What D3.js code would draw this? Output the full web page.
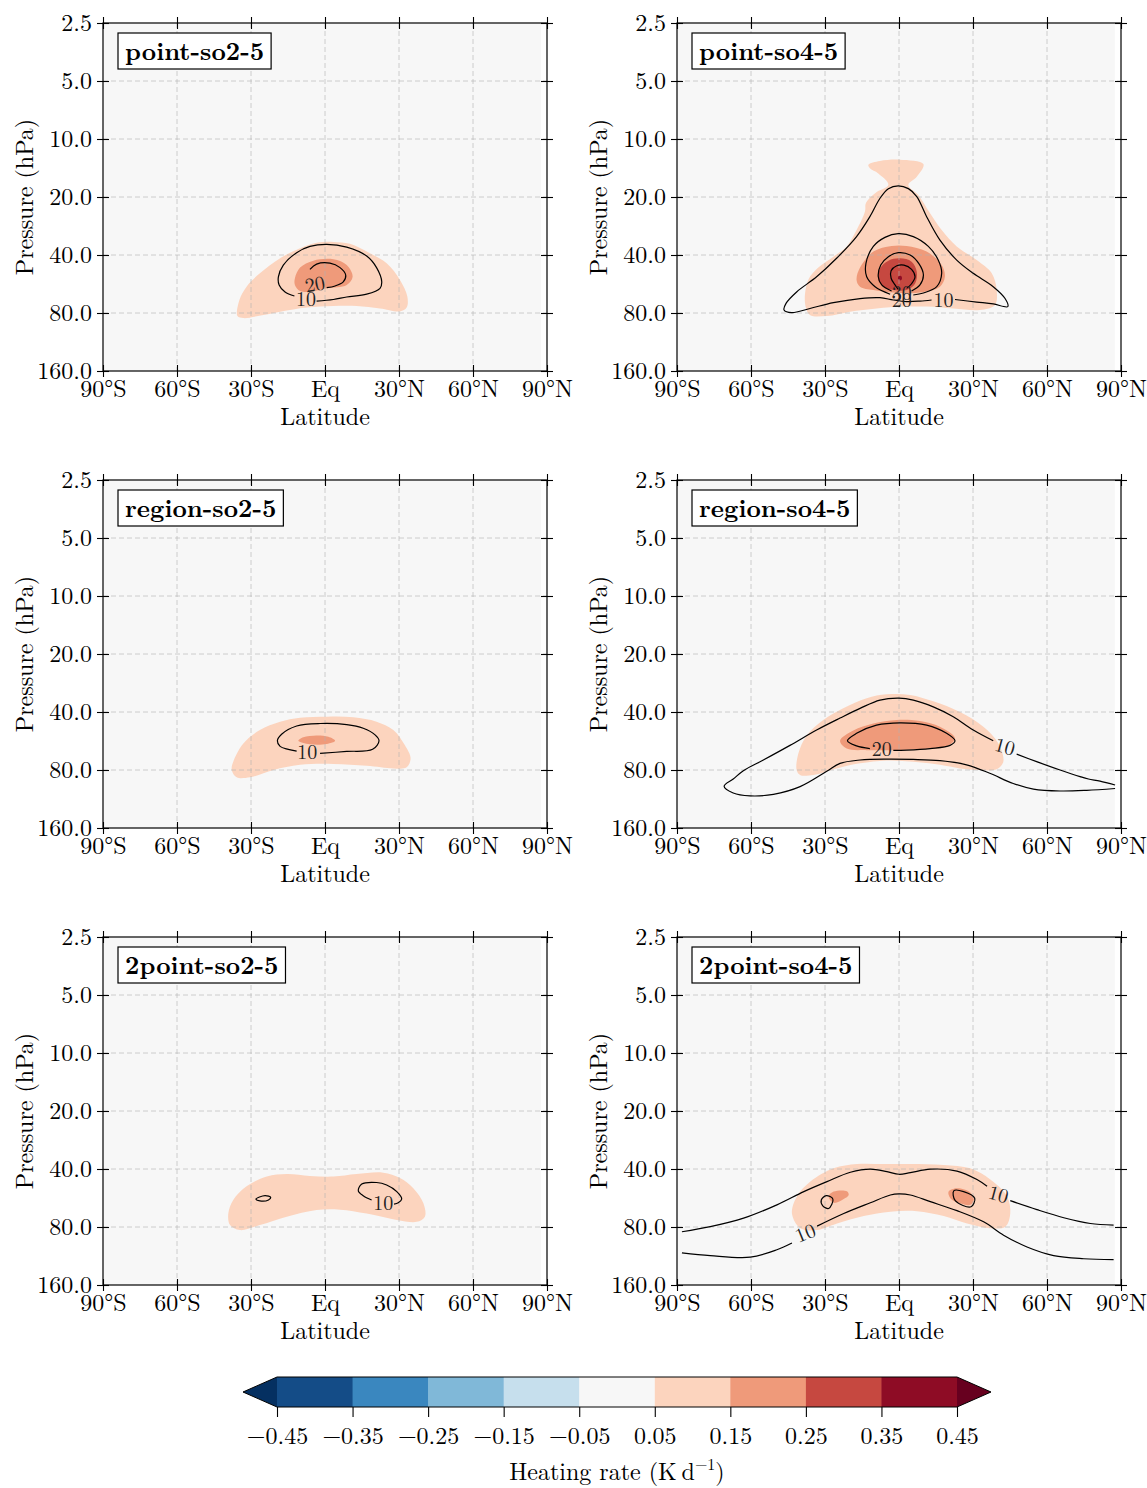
<!DOCTYPE html>
<html>
<head>
<meta charset="utf-8">
<script src="https://cdn.jsdelivr.net/npm/d3@7"></script>
<style>
  body { margin: 0; background: #fff; }
</style>
</head>
<body>
<script>
const FONT = '"Latin Modern Roman","CMU Serif","Liberation Serif",serif';

// axes
const latTicks = [-90, -60, -30, 0, 30, 60, 90];
const latLabels = ["90°S", "60°S", "30°S", "Eq", "30°N", "60°N", "90°N"];
const pTicks = [2.5, 5, 10, 20, 40, 80, 160];
const pLabels = ["2.5", "5.0", "10.0", "20.0", "40.0", "80.0", "160.0"];

// colour levels (K/day), RdBu_r
const levels = [-0.45, -0.35, -0.25, -0.15, -0.05, 0.05, 0.15, 0.25, 0.35, 0.45];
const colors = ["#053061", "#144c87", "#3a87bf", "#80b8d8", "#c6dfed", "#f7f7f7",
                "#fcd4be", "#ef9a7a", "#c64840", "#8e0c25", "#67001f"];

const panelNames = ["point-so2-5", "point-so4-5", "region-so2-5", "region-so4-5", "2point-so2-5", "2point-so4-5"];

// filled regions: v = heating rate inside, pts = [lat, hPa]
const pointSo2Fills = [
  {v: 0.10, pts: [[-35.5,83],[-34.7,68.5],[-31.8,58.4],[-26.4,49.8],[-18.2,41.6],[-10.1,36.9],[-3.4,34.6],[3.4,34.2],[10.1,35],[18.2,39.2],[25,44.2],[30.4,53.9],[33.4,65.8],[33.1,74.9],[30.4,78.5],[22.3,75.8],[12.8,73.5],[3.4,73.5],[-7.4,74.9],[-18.2,78.8],[-27.7,83.2],[-33.1,85]]},
  {v: 0.20, pts: [[-12.2,52.8],[-10.1,46.5],[-4.7,42.8],[3.4,42.1],[8.8,45.1],[11.2,51.9],[8.8,57.2],[0.7,59.6],[-6.1,62.2],[-10.1,61.5],[-12.2,57.2]]}
];
const pointSo2Lines = [
  {v: 10, closed: false, pts: [[-12.4,65.3],[-16.2,62.2],[-18.6,57.2],[-18.9,51.9],[-16.9,45.1],[-11.5,38.9],[-6.1,36.1],[0.7,35.2],[8.8,36.4],[16.9,40.5],[20.9,46.5],[23,55.1],[22.3,59.6],[16.9,63.9],[8.8,66.1],[3.4,68.1],[-3.4,69.4]]},
  {v: 20, closed: false, pts: [[-6.1,47.5],[-3.4,44.6],[2,44.1],[6.1,46.5],[8.4,50.8],[7.4,55.1],[4.1,57.9],[0.7,59.1]]}
];
const pointSo2Labels = [[-7.7,67.5,"10",0],[-4.1,56.4,"20",-10]];

const pointSo4Fills = [
  {v: 0.10, pts: [[-12.4,13.6],[-7.7,13],[0.4,12.8],[9.9,13.5],[7.2,15.7],[3.8,17.3],[7.8,19.5],[12.6,24.3],[17.3,29.7],[23.4,36.1],[31.5,42.5],[37.6,49.8],[39.6,60.8],[38.9,72.7],[32.8,77.2],[22,75.8],[11.2,74.1],[1.8,74.1],[-9.1,75.8],[-19.9,78.8],[-29.3,83],[-36.1,81.9],[-38.1,71.3],[-36.8,53.9],[-32.7,46.5],[-26.6,40.8],[-21.2,36.1],[-17.2,29.7],[-13.8,23.8],[-13.4,21.5],[-9.7,19.1],[-4.3,17.3],[-8.4,15.1],[-11.8,14.2]]},
  {v: 0.20, pts: [[-17.2,53.9],[-15.8,46.5],[-10.4,38.4],[-3,35.9],[3.1,35.9],[11.2,38.4],[17.3,45.1],[18.6,51.9],[16.6,58.4],[9.9,62.2],[0.4,63],[-10.4,60.8],[-15.8,58.4]]},
  {v: 0.30, pts: [[-8.4,53.9],[-7.7,47],[-4.3,42.8],[0.4,41.6],[5.1,43.3],[7.2,48.9],[6.5,56.4],[3.1,60.8],[-2.3,60.8],[-6.4,58.4]]},
  {v: 0.40, pts: [[-0.3,51.8],[0.4,51.2],[1.1,51.8],[1.1,53.6],[0.4,54.2],[-0.3,53.6]]}
];
const pointSo4Lines = [
  {v: 10, closed: false, pts: [[13.2,68.5],[8.5,69.4],[3.1,69.8],[-2.3,68.5],[-7.7,66.6],[-15.8,67.3],[-26.6,70.7],[-36.1,75.8],[-43.5,79.7],[-46.6,77.2],[-45.8,71.3],[-41.5,62.2],[-33.4,51.9],[-25.3,41.6],[-17.2,32.1],[-11.8,25.3],[-7.7,20.3],[-4.3,18.1],[-0.3,17.5],[3.8,18.1],[7.2,19.9],[11.2,25.3],[16.6,33.5],[23.4,42.5],[30.1,49.8],[38.2,58.4],[43,67.3],[44.1,74.1],[38.2,71.8],[31.5,70.2],[22.7,68.1]]},
  {v: 20, closed: false, pts: [[5.8,64.5],[9.9,63],[15.3,58.4],[17.3,49.8],[15.9,42.5],[11.9,36.1],[5.8,32.1],[-0.3,31],[-5.7,32.4],[-10.4,36.1],[-13.4,44.2],[-13.1,51.9],[-9.7,58.4],[-3.6,63.9]]},
  {v: 30, closed: false, pts: [[5.1,61.5],[8.5,57.2],[9.9,50.8],[8.2,44.6],[4.5,40],[-0.3,38.9],[-4.3,40.8],[-7.4,45.1],[-8.4,51.9],[-7,57.2],[-3,61.5]]},
  {v: 40, closed: false, pts: [[3.1,59.6],[5.1,56.4],[6.5,51.9],[5.1,47.5],[2,45.1],[-0.9,45.5],[-3.2,48.3],[-3.2,52.8],[-1.6,57.2],[-0.3,60.3]]}
];
const pointSo4Labels = [[18,68.5,"10",0],[1.1,62.8,"30",0],[1.1,68.1,"20",0]];

const regionSo2Fills = [
  {v: 0.10, pts: [[-37.8,80],[-37.2,72.4],[-33.1,58.2],[-26.4,49.6],[-18.2,44.9],[-10.1,42.8],[0.7,42.3],[11.5,42.6],[20.9,44.9],[27.7,49.6],[32.4,59.6],[34.7,69.6],[33.1,77.5],[27.7,78.5],[16.9,76.1],[3.4,74.4],[-10.1,75.2],[-20.9,80],[-30.4,87.3],[-35.8,87.3]]},
  {v: 0.20, pts: [[-10.8,56.4],[-8.8,54.1],[-3.4,52.9],[1.4,53.8],[4.1,56.4],[0.7,58.6],[-6.1,58.8]]}
];
const regionSo2Lines = [
  {v: 10, closed: false, pts: [[-11.5,63.9],[-14.9,62.5],[-18.2,60.3],[-19.3,56.4],[-17.6,52.2],[-11.5,47.3],[-2,45.9],[8.8,46.5],[15.5,48.6],[20.3,52.6],[21.9,56.4],[19.3,62.5],[8.8,64.1],[-2,65.6]]}
];
const regionSo2Labels = [[-7.2,64.6,"10",0]];

const regionSo4Fills = [
  {v: 0.10, pts: [[-41.5,80],[-40.8,65.6],[-37.4,52.9],[-30.7,44],[-22.6,38.3],[-13.1,33.9],[-5,32.4],[4.5,32.6],[13.9,35.2],[24.7,40],[34.2,47.7],[40.3,58.2],[42.3,72.4],[39.6,79.4],[32.8,80],[24.7,78.5],[16.6,75.2],[5.8,72.4],[-5,71.4],[-15.8,73.9],[-25.3,78.5],[-34.7,84.9],[-40.1,84.9]]},
  {v: 0.20, pts: [[-23.9,56.4],[-18.5,49.9],[-10.4,45.9],[-0.9,44],[8.5,44.6],[16.6,47.7],[22.7,54.7],[19.3,60.3],[8.5,62.5],[-2.3,63.1],[-13.1,63.1],[-21.2,61.9]]}
];
const regionSo4Lines = [
  {v: 20, closed: false, pts: [[-11.8,61.9],[-17.2,60],[-20.9,56.4],[-17.2,51.6],[-9.1,46.8],[0.4,45.5],[11.2,46.8],[19.3,51.6],[22.7,56.4],[20.7,59.6],[12.6,61.9],[3.1,63.1],[-2.3,63.3]]},
  {v: 10, closed: false, pts: [[38.2,56.4],[30.1,49.6],[22,42.3],[13.9,37.6],[5.8,34.7],[0,33.9],[-7.7,34.7],[-15.8,38.3],[-23.9,43],[-33.4,49.6],[-44.2,59.6],[-55,71],[-63.1,80.7],[-67.2,89.1],[-70.9,97.1],[-67.2,105.3],[-60.4,109],[-50.9,107],[-40.1,97.6],[-29.3,81.3],[-23.9,73.9],[-15.8,71],[-5,70.2],[5.8,70.5],[16.6,71.6],[27.4,75.2],[36.8,83.2],[46.3,94],[54.5,100.5],[65.3,102.8],[76.1,102],[87.6,99.8]]},
  {v: 10, closed: false, pts: [[47.7,66.2],[55.8,72.4],[65.3,80],[73.4,86.6],[76.8,89.1],[81.5,91.4],[87.6,95.7]]}
];
const regionSo4Labels = [[-7,62.5,"20",0],[43,60.3,"10",15]];

const twoPointSo2Fills = [
  {v: 0.10, pts: [[-39.2,68.1],[-37.2,57.9],[-31.8,49.2],[-23.6,43.8],[-15.5,42.5],[-6.1,43.5],[3.4,43.8],[12.8,42.5],[23.6,41.8],[30.4,44.6],[35.8,50.3],[39.9,60.3],[40.5,70.7],[37.2,75.2],[29.1,73.5],[16.9,68.1],[6.1,65],[-3.4,65.3],[-15.5,70.7],[-26.4,78.2],[-34.5,83],[-38.5,78.2]]}
];
const twoPointSo2Lines = [
  {v: 10, closed: true, pts: [[-28,57.3],[-24.3,55],[-22,56.2],[-22.9,57.9],[-26.4,58.6]]},
  {v: 10, closed: false, pts: [[18.9,57.9],[15.5,55],[13.5,51.9],[14.9,47.9],[20.9,47],[25,48.4],[29.1,52.4],[31.1,57.2],[29.7,59.9],[28,60.8]]}
];
const twoPointSo2Labels = [[23.6,59.9,"10",0]];

const twoPointSo4Fills = [
  {v: 0.10, pts: [[-43.4,68.1],[-41.4,55.5],[-35.9,46.5],[-26.5,39.7],[-17,37.7],[-6.2,37.7],[4.6,37.7],[18.1,38.1],[28.9,39.7],[37,45.4],[43.8,55.5],[45.1,68.1],[43.1,79.7],[37,81.2],[27.6,76.7],[18.1,70.2],[7.3,66.2],[-3.5,66.6],[-14.3,70.2],[-25.1,76.7],[-33.2,83],[-40,81.2]]},
  {v: 0.20, pts: [[-28.5,55.5],[-26.5,52.4],[-21.1,52.2],[-20.4,54.6],[-22.4,57.3],[-26.5,59.9]]},
  {v: 0.20, pts: [[20.1,52.4],[23.5,50.3],[28.9,52.9],[30.3,57.9],[28.9,61.4],[24.2,59.9],[20.8,56.7]]}
];
const twoPointSo4Lines = [
  {v: 20, closed: true, pts: [[-31.5,57.9],[-29.5,55],[-26.8,57.3],[-28.5,64.1],[-30.9,62.1]]},
  {v: 20, closed: true, pts: [[22.2,51.9],[26.2,52.4],[30.7,56.7],[29.2,62.8],[22.8,58.4]]},
  {v: 10, closed: false, pts: [[-88,84.7],[-76.5,79.7],[-63,72],[-49.5,61.4],[-38.6,52.4],[-29.2,46.5],[-19.7,41.6],[-11.6,40.1],[-4.9,41.3],[0,42.6],[4.6,41.8],[12.7,40.1],[23.5,41],[31.6,45.4],[35.7,49.2]]},
  {v: 10, closed: false, pts: [[45.1,58.4],[55.9,65],[66.8,71.6],[77.6,76.7],[87,78.2]]},
  {v: 10, closed: false, pts: [[-88,108.9],[-76.5,112.6],[-60.3,114.7],[-49.5,105],[-43.4,96.9]]},
  {v: 10, closed: false, pts: [[-33.2,79.2],[-22.4,68.1],[-11.6,59.9],[-3.5,54.6],[0,53.9],[4.6,54.6],[12.7,59.1],[23.5,65.8],[34.3,75.2],[42.4,88.2],[51.9,101.6],[62.7,112.6],[74.9,116.9],[87,118.2]]}
];
const twoPointSo4Labels = [[40.4,53.9,"10",15],[-38,85.8,"10",-22]];

const panelFills = [pointSo2Fills, pointSo4Fills, regionSo2Fills, regionSo4Fills, twoPointSo2Fills, twoPointSo4Fills];
const panelLines = [pointSo2Lines, pointSo4Lines, regionSo2Lines, regionSo4Lines, twoPointSo2Lines, twoPointSo4Lines];
const panelLabels = [pointSo2Labels, pointSo4Labels, regionSo2Labels, regionSo4Labels, twoPointSo2Labels, twoPointSo4Labels];

const W = 1147, H = 1488;
const pw = 444, ph = 348;
const FS = 24;
const origins = [[103, 23], [677, 23], [103, 480], [677, 480], [103, 937], [677, 937]];

const svg = d3.select("body").append("svg")
  .attr("width", W)
  .attr("height", H)
  .style("font-family", FONT);

const x = d3.scaleLinear().domain([-90, 90]).range([0, pw]);
const y = d3.scaleLog().base(2).domain([2.5, 160]).range([0, ph]);
const color = d3.scaleThreshold().domain(levels).range(colors);

const openLine = d3.line().x(d => x(d[0])).y(d => y(d[1])).curve(d3.curveCatmullRom.alpha(0.5));
const closedLine = d3.line().x(d => x(d[0])).y(d => y(d[1])).curve(d3.curveCatmullRomClosed.alpha(0.5));

const styleAxis = (ax, inner, horiz) => {
  ax.attr("font-family", FONT).attr("font-size", FS);
  ax.select(".domain").remove();
  ax.selectAll(".tick line").attr(horiz ? "y1" : "x1", inner).attr("stroke", "#000").attr("stroke-width", 1.1);
};

panelNames.forEach((name, i) => {
  const [ox, oy] = origins[i];
  const g = svg.append("g").attr("transform", `translate(${ox},${oy})`);

  g.append("clipPath").attr("id", "clip" + i)
    .append("rect").attr("width", pw).attr("height", ph);

  const plot = g.append("g").attr("clip-path", `url(#clip${i})`);

  // field background (neutral bin)
  plot.append("rect")
    .attr("x", x(-90)).attr("width", x(87.5) - x(-90))
    .attr("height", ph)
    .attr("fill", color(0));

  plot.selectAll("path.fill")
    .data(panelFills[i])
    .join("path")
    .attr("class", "fill")
    .attr("d", d => closedLine(d.pts))
    .attr("fill", d => color(d.v));

  // grid
  plot.selectAll("line.gx")
    .data(latTicks.slice(1, -1))
    .join("line")
    .attr("class", "gx")
    .attr("x1", d => x(d)).attr("x2", d => x(d))
    .attr("y1", 0).attr("y2", ph);
  plot.selectAll("line.gy")
    .data(pTicks.slice(1, -1))
    .join("line")
    .attr("class", "gy")
    .attr("x1", 0).attr("x2", pw)
    .attr("y1", d => y(d)).attr("y2", d => y(d));
  plot.selectAll("line.gx, line.gy")
    .attr("stroke", "#b0b0b0")
    .attr("stroke-opacity", 0.6)
    .attr("stroke-width", 1)
    .attr("stroke-dasharray", "5,3");

  // contour lines
  plot.selectAll("path.cl")
    .data(panelLines[i])
    .join("path")
    .attr("class", "cl")
    .attr("d", d => (d.closed ? closedLine : openLine)(d.pts))
    .attr("fill", "none")
    .attr("stroke", "#000")
    .attr("stroke-width", 1.2);

  plot.selectAll("text.cl")
    .data(panelLabels[i])
    .join("text")
    .attr("class", "cl")
    .attr("transform", d => `translate(${x(d[0])},${y(d[1])}) rotate(${d[3]})`)
    .attr("text-anchor", "middle")
    .attr("dy", "0.35em")
    .attr("font-size", 20)
    .attr("fill", "#222")
    .text(d => d[2]);

  // frame
  g.append("rect")
    .attr("width", pw).attr("height", ph)
    .attr("fill", "none")
    .attr("stroke", "#000")
    .attr("stroke-width", 1.2);

  // axes, ticks crossing the frame
  const bottom = g.append("g").attr("transform", `translate(0,${ph})`)
    .call(d3.axisBottom(x).tickValues(latTicks).tickFormat((d, k) => latLabels[k]).tickSize(6).tickPadding(3));
  styleAxis(bottom, -6, true);
  const top = g.append("g")
    .call(d3.axisTop(x).tickValues(latTicks).tickFormat("").tickSize(6));
  styleAxis(top, 6, true);
  const left = g.append("g")
    .call(d3.axisLeft(y).tickValues(pTicks).tickFormat((d, k) => pLabels[k]).tickSize(6).tickPadding(5));
  styleAxis(left, 6, false);
  const right = g.append("g").attr("transform", `translate(${pw},0)`)
    .call(d3.axisRight(y).tickValues(pTicks).tickFormat("").tickSize(6));
  styleAxis(right, -6, false);

  g.append("text")
    .attr("x", pw / 2).attr("y", ph + 54)
    .attr("text-anchor", "middle")
    .attr("font-size", FS)
    .text("Latitude");
  g.append("text")
    .attr("transform", `translate(-78,${ph / 2}) rotate(-90)`)
    .attr("text-anchor", "middle")
    .attr("dy", "0.35em")
    .attr("font-size", FS)
    .text("Pressure (hPa)");

  // panel title box
  const tb = g.append("g").attr("transform", "translate(15,10)");
  const rect = tb.append("rect").attr("height", 36).attr("fill", "#fff").attr("stroke", "#000").attr("stroke-width", 1.2);
  const t = tb.append("text")
    .attr("x", 7).attr("y", 18).attr("dy", "0.35em")
    .attr("font-size", 25).attr("font-weight", "bold")
    .text(name);
  rect.attr("width", t.node().getBBox().width + 14);
});

// colorbar
const cbY = 1377, cbH = 30;
const cx = d3.scaleLinear().domain([-0.45, 0.45]).range([277, 957]);
const cb = svg.append("g");
cb.selectAll("rect")
  .data(d3.pairs(levels))
  .join("rect")
  .attr("x", d => cx(d[0]))
  .attr("width", d => cx(d[1]) - cx(d[0]) + 0.5)
  .attr("y", cbY).attr("height", cbH)
  .attr("fill", d => color((d[0] + d[1]) / 2));
const tri = 34;
cb.append("path")
  .attr("d", `M${cx(-0.45)},${cbY}L${cx(-0.45) - tri},${cbY + cbH / 2}L${cx(-0.45)},${cbY + cbH}Z`)
  .attr("fill", color(-1));
cb.append("path")
  .attr("d", `M${cx(0.45)},${cbY}L${cx(0.45) + tri},${cbY + cbH / 2}L${cx(0.45)},${cbY + cbH}Z`)
  .attr("fill", color(1));
cb.append("path")
  .attr("d", `M${cx(-0.45)},${cbY}L${cx(0.45)},${cbY}L${cx(0.45) + tri},${cbY + cbH / 2}L${cx(0.45)},${cbY + cbH}L${cx(-0.45)},${cbY + cbH}L${cx(-0.45) - tri},${cbY + cbH / 2}Z`)
  .attr("fill", "none")
  .attr("stroke", "#000")
  .attr("stroke-width", 1);

const cbAxis = cb.append("g").attr("transform", `translate(0,${cbY + cbH})`)
  .call(d3.axisBottom(cx).tickValues(levels).tickFormat(d3.format(".2f")).tickSize(10).tickPadding(10));
cbAxis.attr("font-family", FONT).attr("font-size", FS);
cbAxis.select(".domain").remove();
cbAxis.selectAll(".tick line").attr("stroke", "#000").attr("stroke-width", 1.1);

const cbTitle = svg.append("text")
  .attr("x", 617).attr("y", 1480)
  .attr("text-anchor", "middle")
  .attr("font-size", FS);
cbTitle.append("tspan").text("Heating rate (K\u2009d");
cbTitle.append("tspan").attr("font-size", 16).attr("dy", -10).text("−1");
cbTitle.append("tspan").attr("dy", 10).text(")");
</script>
</body>
</html>
